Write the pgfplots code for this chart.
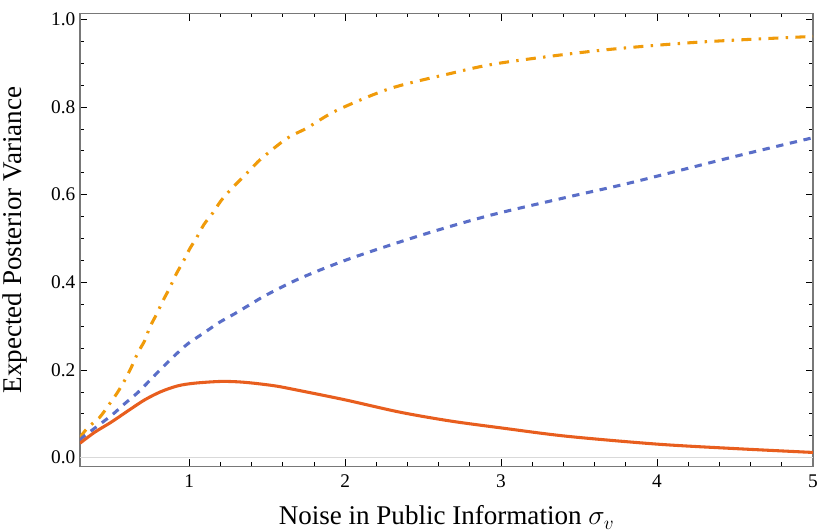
\documentclass[border=0pt]{standalone}
\usepackage{pgfplots}
\pgfplotsset{compat=1.18}
\usepackage{fontspec}
\setmainfont{Liberation Serif}

\definecolor{curveorange}{RGB}{240,155,10}
\definecolor{curveblue}{RGB}{90,110,200}
\definecolor{curvered}{RGB}{232,94,30}
\definecolor{framegray}{RGB}{120,120,120}

\pgfplotstableread{
x y
0.300 0.046
0.351 0.069
0.426 0.092
0.490 0.123
0.539 0.148
0.586 0.176
0.629 0.206
0.672 0.240
0.715 0.267
0.747 0.297
0.789 0.326
0.832 0.358
0.875 0.387
0.917 0.419
0.960 0.446
1.003 0.476
1.050 0.503
1.095 0.532
1.153 0.559
1.206 0.587
1.270 0.613
1.334 0.636
1.398 0.659
1.462 0.682
1.625 0.728
1.755 0.752
1.945 0.792
2.287 0.842
2.670 0.876
2.990 0.900
3.630 0.929
4.270 0.948
5.000 0.961
}\orangedata

\pgfplotstableread{
x y
0.300 0.040
0.330 0.050
0.500 0.096
0.586 0.123
0.672 0.149
0.747 0.176
0.821 0.203
0.907 0.233
0.992 0.260
1.100 0.286
1.195 0.309
1.290 0.328
1.398 0.351
1.494 0.371
1.710 0.409
2.030 0.454
2.500 0.509
2.930 0.553
3.420 0.594
3.840 0.628
4.486 0.686
5.000 0.730
}\bluedata

\pgfplotstableread{
x y
0.300 0.033
0.394 0.058
0.500 0.081
0.608 0.107
0.715 0.132
0.821 0.151
0.928 0.164
1.035 0.170
1.206 0.174
1.356 0.172
1.548 0.164
1.710 0.153
2.000 0.132
2.350 0.104
2.670 0.084
3.000 0.068
3.420 0.049
4.000 0.031
4.490 0.021
5.000 0.012
}\reddata

\begin{document}
\begin{tikzpicture}
\begin{axis}[
  name=ax,
  scale only axis,
  width=550pt, height=340pt,
  xmin=0.3, xmax=5,
  ymin=-0.02, ymax=1.0137,
  xtick={1,2,3,4,5},
  minor x tick num=4,
  ytick={0,0.2,0.4,0.6,0.8,1.0},
  minor y tick num=3,
  tick align=inside,
  major tick length=5.5pt,
  minor tick length=3pt,
  axis line style={framegray, line width=0.9pt},
  tick style={black, line width=0.6pt},
  /pgf/number format/assume math mode=true,
  yticklabel style={/pgf/number format/.cd, fixed, fixed zerofill, precision=1},
  ticklabel style={font=\fontsize{14.5}{17}\selectfont},
  xticklabel style={yshift=-3pt},
  xlabel={Noise in Public Information $\sigma_v$},
  ylabel={Expected Posterior Variance},
  label style={font=\fontsize{20.3}{24}\selectfont},
  xlabel style={at={(axis description cs:0.5,0)}, anchor=north, yshift=-26pt},
  ylabel style={at={(axis description cs:0,0.5)}, anchor=south, yshift=36pt},
  clip=true,
]
\draw[black!15, line width=1pt] (axis cs:0.3,0) -- (axis cs:5,0);
\addplot[curveorange, line width=2.3pt, smooth, tension=0.5, dash pattern=on 7.5pt off 5.5pt on 1.8pt off 5.5pt] table {\orangedata};
\addplot[curveblue, line width=2.3pt, smooth, tension=0.5, dash pattern=on 5.5pt off 5pt] table {\bluedata};
\addplot[curvered, line width=2.3pt, smooth, tension=0.5] table {\reddata};
\end{axis}
\pgfresetboundingbox
\path ([xshift=-60pt,yshift=-49pt]ax.south west) rectangle ([xshift=3pt,yshift=10pt]ax.north east);
\end{tikzpicture}
\end{document}
